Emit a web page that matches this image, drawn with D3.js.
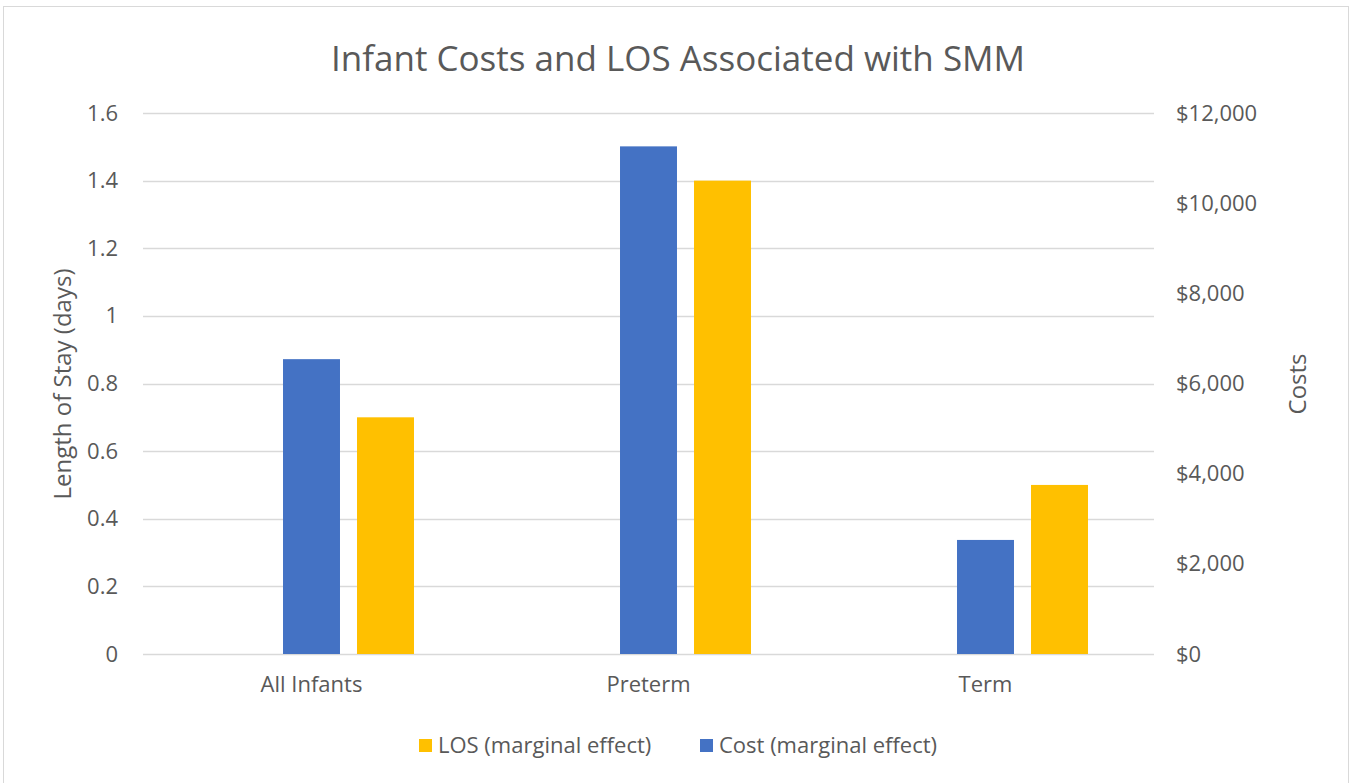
<!doctype html>
<html lang="en">
<head>
  <meta charset="UTF-8">
  <title>Infant Costs and LOS Associated with SMM</title>
  <script src="https://cdn.jsdelivr.net/npm/d3@7"></script>
  <style>
    body { margin: 0; background: #fff; }
    text { font-family: "Open Sans", sans-serif; fill: #595959; }
    .grid line { stroke: #d9d9d9; stroke-width: 1.3px; }
    .axis path, .axis line { display: none; }
  </style>
</head>
<body>
<script>
  var categories = ["All Infants", "Preterm", "Term"];
  var costValues = [6540, 11260, 2530];
  var losValues = [0.70, 1.40, 0.50];
  var losTicks = [0, 0.2, 0.4, 0.6, 0.8, 1, 1.2, 1.4, 1.6];
  var costTicks = [0, 2000, 4000, 6000, 8000, 10000, 12000];
  var seriesNames = ["LOS (marginal effect)", "Cost (marginal effect)"];

  var W = 1357, H = 783;
  var plot = { left: 143, right: 1154, top: 113, bottom: 654 };

  var svg = d3.select("body").append("svg")
    .attr("width", W)
    .attr("height", H);

  svg.append("rect")
    .attr("x", 3.5).attr("y", 6.5)
    .attr("width", 1345).attr("height", 800)
    .attr("fill", "#fff")
    .attr("stroke", "#d9d9d9");

  var x = d3.scaleBand()
    .domain(categories)
    .range([plot.left, plot.right]);

  // slot left of the cost bar is empty in the original chart
  var inner = d3.scaleBand()
    .domain(["blank", "Cost", "LOS"])
    .range([-111, 111])
    .paddingInner(0.23)
    .paddingOuter(0.115);

  var yLos = d3.scaleLinear().domain([0, 1.6]).range([plot.bottom, plot.top]);
  var yCost = d3.scaleLinear().domain([0, 12000]).range([plot.bottom, plot.top]);

  // gridlines
  svg.append("g")
    .attr("class", "grid")
    .selectAll("line")
    .data(losTicks)
    .enter().append("line")
    .attr("x1", plot.left).attr("x2", plot.right)
    .attr("y1", function(d) { return Math.round(yLos(d)) + 0.5; })
    .attr("y2", function(d) { return Math.round(yLos(d)) + 0.5; });

  // left axis
  var leftAxis = svg.append("g")
    .attr("class", "axis")
    .attr("transform", "translate(" + plot.left + ",0)")
    .call(d3.axisLeft(yLos).tickValues(losTicks).tickSize(0).tickPadding(25)
      .tickFormat(function(d) { return d3.format("")(d); }));
  leftAxis.selectAll("text").style("font-size", "22px").attr("fill", "#595959");

  // right axis
  var rightAxis = svg.append("g")
    .attr("class", "axis")
    .attr("transform", "translate(" + plot.right + ",0)")
    .call(d3.axisRight(yCost).tickValues(costTicks).tickSize(0).tickPadding(22)
      .tickFormat(function(d) { return "$" + d3.format(",")(d); }));
  rightAxis.selectAll("text").style("font-size", "22px").attr("fill", "#595959");

  // bottom axis labels
  var bottomAxis = svg.append("g")
    .attr("class", "axis")
    .attr("transform", "translate(0," + plot.bottom + ")")
    .call(d3.axisBottom(x).tickSize(0).tickPadding(22));
  bottomAxis.selectAll("text").style("font-size", "22px").attr("fill", "#595959");

  // bars
  var bars = svg.append("g");
  bars.selectAll("rect.cost")
    .data(categories)
    .enter().append("rect")
    .attr("class", "cost")
    .attr("x", function(d) { return x(d) + x.bandwidth() / 2 + inner("Cost"); })
    .attr("width", inner.bandwidth())
    .attr("y", function(d, i) { return yCost(costValues[i]); })
    .attr("height", function(d, i) { return plot.bottom - yCost(costValues[i]); })
    .attr("fill", "#4472c4");

  bars.selectAll("rect.los")
    .data(categories)
    .enter().append("rect")
    .attr("class", "los")
    .attr("x", function(d) { return x(d) + x.bandwidth() / 2 + inner("LOS"); })
    .attr("width", inner.bandwidth())
    .attr("y", function(d, i) { return yLos(losValues[i]); })
    .attr("height", function(d, i) { return plot.bottom - yLos(losValues[i]); })
    .attr("fill", "#ffc000");

  // title
  svg.append("text")
    .attr("x", 678).attr("y", 71)
    .attr("text-anchor", "middle")
    .style("font-size", "35px")
    .text("Infant Costs and LOS Associated with SMM");

  // axis titles
  svg.append("text")
    .attr("transform", "translate(71,384) rotate(-90)")
    .attr("text-anchor", "middle")
    .style("font-size", "24px")
    .text("Length of Stay (days)");

  svg.append("text")
    .attr("transform", "translate(1306,384) rotate(-90)")
    .attr("text-anchor", "middle")
    .style("font-size", "24px")
    .text("Costs");

  // legend
  var legendColors = ["#ffc000", "#4472c4"];
  var legendX = [419, 700];
  var legend = svg.append("g")
    .selectAll("g")
    .data(seriesNames)
    .enter().append("g")
    .attr("transform", function(d, i) { return "translate(" + legendX[i] + ",739)"; });
  legend.append("rect")
    .attr("width", 13).attr("height", 13)
    .attr("fill", function(d, i) { return legendColors[i]; });
  legend.append("text")
    .attr("x", 19).attr("y", 14)
    .style("font-size", "22px")
    .text(function(d) { return d; });
</script>
</body>
</html>
